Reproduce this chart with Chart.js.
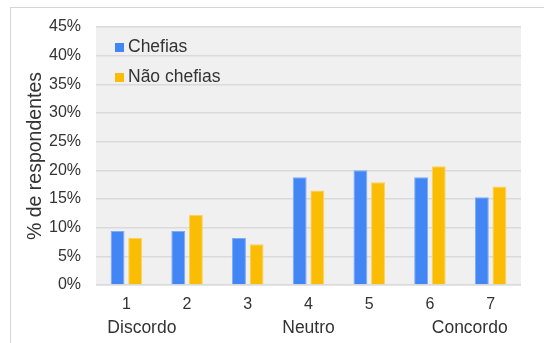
<!DOCTYPE html>
<html>
<head>
<meta charset="utf-8">
<script src="https://cdn.jsdelivr.net/npm/chart.js@4"></script>
<style>
    body { margin: 0; background: #fff; }
    #wrap { position: relative; width: 544px; height: 343px; }
    #frame {
        position: absolute; left: 10px; top: 7px; right: 0; bottom: 0;
        border-left: 1px solid #d6d6d6; border-top: 1px solid #d6d6d6;
    }
    #surveyChart { position: absolute; left: 0; top: 0; }
</style>
</head>
<body>
<div id="wrap">
    <div id="frame"></div>
    <canvas id="surveyChart" width="544" height="343"></canvas>
</div>
<script>
const categories = ['1', '2', '3', '4', '5', '6', '7'];
const chefias = [9.4, 9.4, 8.2, 18.8, 20.0, 18.8, 15.3];
const naoChefias = [8.2, 12.2, 7.1, 16.5, 17.9, 20.7, 17.2];
const scaleLabels = ['Discordo', 'Neutro', 'Concordo'];

const fontFamily = "'Liberation Sans', Arial, sans-serif";
const textColor = '#333';

// grey plot background + legend and scale words drawn by hand
const plotExtras = {
    id: 'plotExtras',
    beforeDraw(chart) {
        const a = chart.chartArea;
        const ctx = chart.ctx;
        ctx.save();
        ctx.fillStyle = '#f0f0f0';
        ctx.fillRect(a.left, a.top, a.right - a.left, a.bottom - a.top + 1);
        ctx.restore();
    },
    afterDraw(chart) {
        const ctx = chart.ctx;
        const a = chart.chartArea;
        const x = chart.scales.x;
        ctx.save();

        // legend, top-left inside the plot
        ctx.font = '17.5px ' + fontFamily;
        ctx.textBaseline = 'middle';
        ctx.textAlign = 'left';
        chart.data.datasets.forEach(function (ds, i) {
            const y = a.top + 20.5 + i * 30;
            ctx.fillStyle = ds.backgroundColor;
            ctx.fillRect(a.left + 19, y - 4.5, 9, 9);
            ctx.fillStyle = textColor;
            ctx.fillText(ds.label, a.left + 32, y);
        });

        // Discordo / Neutro / Concordo row under the ticks
        const rowY = a.bottom + 43;
        ctx.textAlign = 'left';
        ctx.fillText(scaleLabels[0], x.getPixelForValue(0) - 19, rowY);
        ctx.textAlign = 'center';
        ctx.fillText(scaleLabels[1], x.getPixelForValue(3), rowY);
        ctx.textAlign = 'right';
        ctx.fillText(scaleLabels[2], x.getPixelForValue(6) + 17, rowY);
        ctx.restore();
    }
};

const ctx = document.getElementById('surveyChart').getContext('2d');
new Chart(ctx, {
    type: 'bar',
    data: {
        labels: categories,
        datasets: [{
            label: 'Chefias',
            data: chefias,
            backgroundColor: '#4285f4',
            borderColor: '#7fabf7',
            borderWidth: 1,
            categoryPercentage: 0.58,
            barPercentage: 0.79
        }, {
            label: 'Não chefias',
            data: naoChefias,
            backgroundColor: '#fbbc04',
            borderColor: '#fcd25a',
            borderWidth: 1,
            categoryPercentage: 0.58,
            barPercentage: 0.79
        }]
    },
    options: {
        responsive: false,
        animation: false,
        layout: { padding: { top: 27, right: 23, left: 0, bottom: 0 } },
        plugins: {
            legend: { display: false },
            tooltip: { enabled: false }
        },
        scales: {
            x: {
                grid: { display: false, drawTicks: false },
                border: { display: false },
                ticks: {
                    color: textColor,
                    padding: 10,
                    font: { family: fontFamily, size: 16 }
                },
                afterFit: function (scale) { scale.height = 58; }
            },
            y: {
                min: 0,
                max: 45,
                grid: { color: '#dadada', lineWidth: 1.5, drawTicks: false },
                border: { display: false },
                ticks: {
                    stepSize: 5,
                    color: textColor,
                    padding: 15,
                    font: { family: fontFamily, size: 16 },
                    callback: function (v) { return v + '%'; }
                },
                title: {
                    display: true,
                    text: '% de respondentes',
                    color: textColor,
                    font: { family: fontFamily, size: 19.5 },
                    padding: { top: 24, bottom: 0 }
                },
                afterFit: function (scale) { scale.width = 96; }
            }
        }
    },
    plugins: [plotExtras]
});
</script>
</body>
</html>
